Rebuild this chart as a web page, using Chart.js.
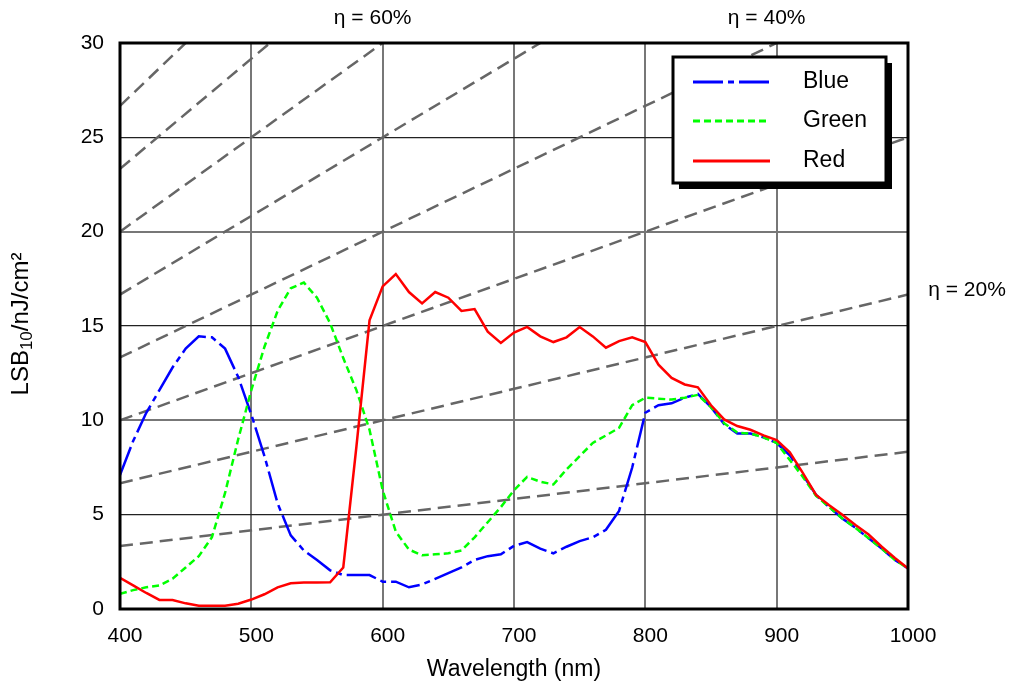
<!DOCTYPE html>
<html>
<head>
<meta charset="utf-8">
<script src="https://cdn.jsdelivr.net/npm/chart.js@4/dist/chart.umd.min.js"></script>
<style>
  body { margin: 0; background: #fff; }
</style>
</head>
<body>
<canvas id="myChart" width="1010" height="687"></canvas>
<script>
// wavelength samples (nm)
var wavelength = [400, 410, 420, 430, 440, 450, 460, 470, 480, 490,
  500, 510, 520, 530, 540, 550, 560, 570, 580, 590,
  600, 610, 620, 630, 640, 650, 660, 670, 680, 690,
  700, 710, 720, 730, 740, 750, 760, 770, 780, 790,
  800, 810, 820, 830, 840, 850, 860, 870, 880, 890,
  900, 910, 920, 930, 940, 950, 960, 970, 980, 990, 1000];

var blue = [7.1, 8.9, 10.4, 11.6, 12.8, 13.8, 14.45, 14.4, 13.8, 12.3,
  10.3, 8.1, 5.6, 3.9, 3.1, 2.6, 2.05, 1.8, 1.8, 1.8,
  1.45, 1.45, 1.15, 1.3, 1.6, 1.9, 2.2, 2.6, 2.8, 2.9,
  3.35, 3.55, 3.2, 2.95, 3.3, 3.6, 3.8, 4.2, 5.2, 7.5,
  10.4, 10.8, 10.9, 11.2, 11.4, 10.7, 9.8, 9.3, 9.3, 9.1,
  8.8, 8.15, 7.1, 6.05, 5.4, 4.8, 4.3, 3.75, 3.2, 2.6, 2.15];

var green = [0.8, 1.0, 1.15, 1.25, 1.6, 2.2, 2.8, 3.8, 6.15, 9.0,
  11.6, 13.9, 15.8, 17.0, 17.3, 16.5, 15.15, 13.3, 11.6, 9.5,
  6.3, 4.1, 3.15, 2.85, 2.9, 2.95, 3.1, 3.8, 4.6, 5.4,
  6.3, 7.0, 6.75, 6.6, 7.4, 8.1, 8.8, 9.2, 9.6, 10.8,
  11.2, 11.15, 11.1, 11.2, 11.35, 10.7, 9.85, 9.35, 9.3, 9.1,
  8.8, 7.9, 7.0, 6.0, 5.4, 4.8, 4.3, 3.75, 3.2, 2.6, 2.15];

var red = [1.65, 1.25, 0.85, 0.48, 0.48, 0.3, 0.17, 0.17, 0.17, 0.28,
  0.5, 0.78, 1.15, 1.36, 1.4, 1.4, 1.42, 2.2, 8.6, 15.3,
  17.1, 17.75, 16.8, 16.2, 16.8, 16.5, 15.8, 15.9, 14.7, 14.1,
  14.65, 14.95, 14.45, 14.15, 14.4, 14.95, 14.45, 13.85, 14.2, 14.4,
  14.15, 12.95, 12.25, 11.9, 11.75, 10.8, 10.05, 9.7, 9.5, 9.2,
  8.95, 8.3, 7.2, 6.05, 5.5, 5.0, 4.45, 3.95, 3.3, 2.7, 2.15];

// efficiency lines: LSB = eta * lambda / 1200
var etaLevels = [10, 20, 30, 40, 50, 60, 70, 80];
var etaEnds = [400, 1000];
var etaLabels = [60, 40, 20];

var xTicks = [400, 500, 600, 700, 800, 900, 1000];
var yTicks = [0, 5, 10, 15, 20, 25, 30];

var FONT = "'Liberation Sans', Arial, sans-serif";

function pts(ys) {
  return wavelength.map(function (w, i) { return { x: w, y: ys[i] }; });
}

var datasets = [
  { label: "Blue", data: pts(blue), borderColor: "#0000ff", borderWidth: 2.5, borderDash: [30, 5, 6, 5], order: 3 },
  { label: "Green", data: pts(green), borderColor: "#00ff00", borderWidth: 2.5, borderDash: [7, 4], order: 2 },
  { label: "Red", data: pts(red), borderColor: "#ff0000", borderWidth: 2.5, order: 1 },
];

etaLevels.forEach(function (eta) {
  datasets.push({
    label: "eta" + eta,
    data: etaEnds.map(function (l) { return { x: l, y: eta * l / 1200 }; }),
    borderColor: "#666666",
    borderWidth: 2.5,
    borderDash: [13, 7],
    order: 10,
  });
});

var decor = {
  id: "decor",
  afterDatasetsDraw: function (chart) {
    var c = chart.ctx, a = chart.chartArea;
    var xs = chart.scales.x, ys = chart.scales.y;
    c.save();
    // frame
    c.strokeStyle = "#000";
    c.lineWidth = 3;
    c.setLineDash([]);
    c.strokeRect(a.left, a.top, a.right - a.left, a.bottom - a.top);

    // legend box with shadow
    var bx = a.right - 235, by = a.top + 14, bw = 213, bh = 126;
    c.fillStyle = "#000";
    c.fillRect(bx + 6, by + 6, bw, bh);
    c.fillStyle = "#fff";
    c.fillRect(bx, by, bw, bh);
    c.lineWidth = 3;
    c.strokeRect(bx, by, bw, bh);
    var rows = [25, 64, 104];
    for (var i = 0; i < 3; i++) {
      var ds = chart.data.datasets[i];
      var yy = by + rows[i];
      c.beginPath();
      c.strokeStyle = ds.borderColor;
      c.lineWidth = 3;
      c.setLineDash(ds.borderDash || []);
      c.moveTo(bx + 20, yy);
      c.lineTo(bx + 97, yy);
      c.stroke();
      c.setLineDash([]);
      c.fillStyle = "#000";
      c.font = "23px " + FONT;
      c.textAlign = "left";
      c.textBaseline = "middle";
      c.fillText(ds.label, bx + 130, yy);
    }

    // eta labels
    c.fillStyle = "#000";
    c.font = "21px " + FONT;
    c.textAlign = "center";
    c.textBaseline = "middle";
    etaLabels.forEach(function (eta) {
      var lamTop = 30 * 1200 / eta;
      if (lamTop <= 1000) {
        c.fillText("\u03b7 = " + eta + "%", xs.getPixelForValue(lamTop) - 10, 18);
      } else {
        var yv = eta * 1000 / 1200;
        c.fillText("\u03b7 = " + eta + "%", a.right + 59, ys.getPixelForValue(yv) - 4);
      }
    });

    // y axis title with subscript
    c.translate(21, 324);
    c.rotate(-Math.PI / 2);
    c.textAlign = "left";
    c.textBaseline = "middle";
    var big = "24px " + FONT, small = "17px " + FONT;
    c.font = big;
    var w1 = c.measureText("LSB").width;
    c.font = small;
    var w2 = c.measureText("10").width;
    c.font = big;
    var w3 = c.measureText("/nJ/cm\u00b2").width;
    var x0 = -(w1 + w2 + w3) / 2;
    c.fillText("LSB", x0, 0);
    c.font = small;
    c.fillText("10", x0 + w1, 6);
    c.font = big;
    c.fillText("/nJ/cm\u00b2", x0 + w1 + w2, 0);
    c.restore();
  },
};

var ctx = document.getElementById("myChart").getContext("2d");
var myChart = new Chart(ctx, {
  type: "line",
  data: { datasets: datasets },
  options: {
    responsive: false,
    animation: false,
    layout: { padding: { top: 43, right: 102, left: 0, bottom: 0 } },
    elements: { point: { radius: 0 }, line: { tension: 0, fill: false } },
    plugins: {
      legend: { display: false },
      tooltip: { enabled: false },
    },
    scales: {
      x: {
        type: "linear",
        min: 400,
        max: 1000,
        afterBuildTicks: function (s) { s.ticks = xTicks.map(function (v) { return { value: v }; }); },
        afterFit: function (s) { s.height = 78; },
        ticks: {
          padding: 15, labelOffset: 5, color: "#000", font: { family: FONT, size: 21 },
          callback: function (v) { return String(v); },
        },
        grid: { color: "#777", lineWidth: 2, drawTicks: false },
        border: { display: false },
        title: { display: true, text: "Wavelength (nm)", color: "#000", font: { family: FONT, size: 23 }, padding: { top: 2 } },
      },
      y: {
        min: 0,
        max: 30,
        afterBuildTicks: function (s) { s.ticks = yTicks.map(function (v) { return { value: v }; }); },
        afterFit: function (s) { s.width = 120; },
        ticks: {
          padding: 16, color: "#000", font: { family: FONT, size: 21 },
          callback: function (v) { return String(v); },
        },
        grid: {
          drawTicks: false,
          color: function (c) { return c.tick && c.tick.value % 10 === 0 ? "#777" : "#222"; },
          lineWidth: function (c) { return c.tick && c.tick.value % 10 === 0 ? 2 : 1.2; },
        },
        border: { display: false },
      },
    },
  },
  plugins: [decor],
});
</script>
</body>
</html>
